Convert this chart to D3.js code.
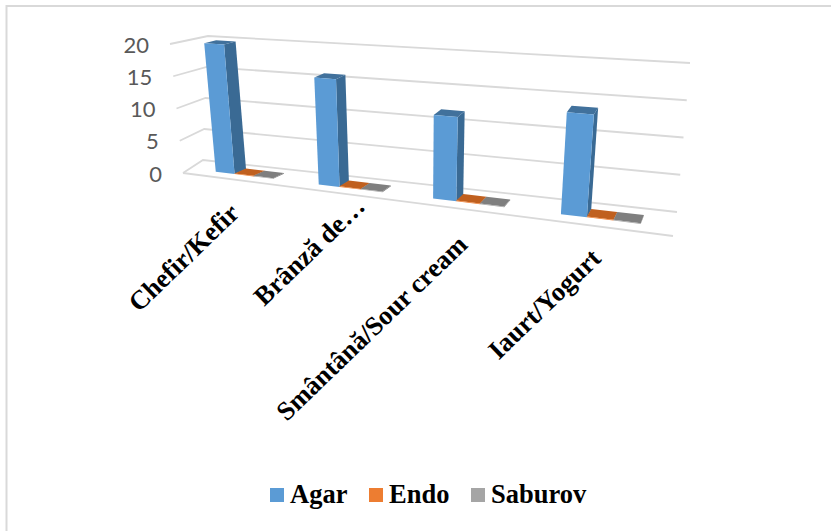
<!DOCTYPE html>
<html>
<head>
<meta charset="utf-8">
<script src="https://cdn.jsdelivr.net/npm/d3@7"></script>
<style>
  html, body { margin: 0; padding: 0; background: #fff; }
  svg { display: block; }
</style>
</head>
<body>
<svg id="chart" width="831" height="531"></svg>
<script>
// Chart values
const categories = ["Chefir/Kefir", "Brânză de…", "Smântână/Sour cream", "Iaurt/Yogurt"];
const seriesNames = ["Agar", "Endo", "Saburov"];
const agar = [20, 16, 12, 14];
const endo = [0.1, 0.1, 0.1, 0.1];
const saburov = [0.1, 0.1, 0.1, 0.1];
const valueTicks = [0, 5, 10, 15, 20];

const seriesValues = [agar, endo, saburov];
const frontColors = ["#5b9bd5", "#ed7d31", "#a5a5a5"];
const sideColors = ["#3a6a94", "#a8561f", "#727272"];
const topColors = ["#41719c", "#c0601f", "#7f7f7f"];

const svg = d3.select("#chart");

// Tilted 3D box: each vertical edge of the plot is a value scale between two screen points
const edge = (bottom, top) => d3.scaleLinear().domain([0, 20]).range([bottom, top]);
const frontLeft = edge([183, 173], [170, 44]);
const frontRight = edge([673, 236], [688, 84]);
const backLeft = edge([203, 160], [208, 36]);
const backRight = edge([677, 212], [690, 63]);

// Foreshortening along the category direction
const warpRatio = 1.25;
const warp = u => u / (u + warpRatio * (1 - u));

function project(u, w, v) {
  const t = warp(u);
  const f = d3.interpolate(frontLeft(v), frontRight(v))(t);
  const b = d3.interpolate(backLeft(v), backRight(v))(t);
  return d3.interpolate(f, b)(w);
}

// Bar boxes lean with the front plane; their depth offset is taken at floor level
function projectBar(u, wx, wy, v) {
  const t = warp(u);
  const f = d3.interpolate(frontLeft(v), frontRight(v))(t);
  const b = d3.interpolate(backLeft(v), backRight(v))(t);
  const f0 = d3.interpolate(frontLeft(0), frontRight(0))(t);
  const b0 = d3.interpolate(backLeft(0), backRight(0))(t);
  return [f[0] + (b0[0] - f0[0]) * wx, f[1] + (b[1] - f[1]) * wy];
}

const band = d3.scaleBand().domain(categories).range([0.01, 0.995]);
const inner = d3.scaleBand().domain(seriesNames)
  .range([band.bandwidth() * 0.22, band.bandwidth() * 0.79]);

const depth = { frontX: 0.38, backX: 1.0, frontY: 0.33, backY: 0.68 };

const line = d3.line();
const gridColor = "#d9d9d9";

// Outer frame of the chart area
svg.append("path").attr("d", line([[6.5, 531], [6.5, 6], [831, 6]]))
  .attr("fill", "none").attr("stroke", gridColor).attr("stroke-width", 2);

// Gridlines on the back wall and the left wall
const grid = svg.append("g").attr("fill", "none").attr("stroke", gridColor).attr("stroke-width", 1.8);
valueTicks.forEach(v => {
  grid.append("path").attr("d", line([project(0, 0, v), project(0, 1, v), project(1, 1, v)]));
});
grid.append("path").attr("d", line([project(0, 0, 0), project(1, 0, 0)]));

// Value axis labels
svg.append("g").selectAll("text").data(valueTicks).join("text")
  .attr("x", d => project(0, 0, d)[0] - 21)
  .attr("y", d => project(0, 0, d)[1] + 3)
  .attr("text-anchor", "end")
  .attr("dominant-baseline", "middle")
  .attr("font-family", "Lato, 'Open Sans', sans-serif")
  .attr("font-size", 22)
  .attr("fill", "#595959")
  .text(d => d);

// Bars: side, top and front faces of each box, left to right
const bars = svg.append("g");
categories.forEach((cat, ci) => {
  seriesNames.forEach((name, si) => {
    const v = seriesValues[si][ci];
    const u0 = band(cat) + inner(name);
    const u1 = u0 + inner.bandwidth();
    const near = (u, val) => projectBar(u, depth.frontX, depth.frontY, val);
    const far = (u, val) => projectBar(u, depth.backX, depth.backY, val);
    bars.append("path").attr("d", line([near(u1, 0), far(u1, 0), far(u1, v), near(u1, v)]) + "Z")
      .attr("fill", sideColors[si]);
    bars.append("path").attr("d", line([near(u0, v), near(u1, v), far(u1, v), far(u0, v)]) + "Z")
      .attr("fill", topColors[si]);
    bars.append("path").attr("d", line([near(u0, 0), near(u1, 0), near(u1, v), near(u0, v)]) + "Z")
      .attr("fill", frontColors[si]);
  });
});

// Category labels, rotated and ending under their cluster
const labelOffsets = [[4, 35], [22.6, 14.5], [5.5, 37.3], [5.5, 34]];
svg.append("g").selectAll("text").data(categories).join("text")
  .attr("transform", (d, i) => {
    const p = project(band(d) + band.bandwidth() / 2, 0, 0);
    return `translate(${p[0] + labelOffsets[i][0]},${p[1] + labelOffsets[i][1]}) rotate(-44)`;
  })
  .attr("text-anchor", "end")
  .attr("font-family", "'Liberation Serif', serif")
  .attr("font-weight", "bold")
  .attr("font-size", 26.5)
  .attr("fill", "#000")
  .text(d => d);

// Legend
const legendSwatchX = [270, 369, 471];
const legend = svg.append("g");
seriesNames.forEach((name, i) => {
  legend.append("rect").attr("x", legendSwatchX[i]).attr("y", 488)
    .attr("width", 14).attr("height", 14).attr("fill", frontColors[i]);
  legend.append("text").attr("x", legendSwatchX[i] + 20).attr("y", 503)
    .attr("font-family", "'Liberation Serif', serif")
    .attr("font-weight", "bold").attr("font-size", 26.5).attr("fill", "#000")
    .text(name);
});
</script>
</body>
</html>
